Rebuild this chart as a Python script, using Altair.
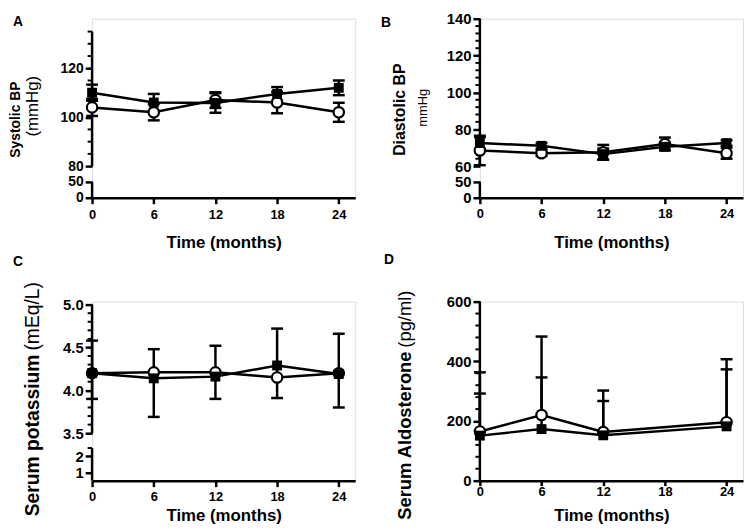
import altair as alt
import pandas as pd

FONT = "Liberation Sans"

# ---------------- data ----------------
months = [0, 6, 12, 18, 24]
months_d = [0, 6, 12, 24]

# A: Systolic BP (mmHg)
sbp_sq = [110, 106, 105.8, 109.5, 112]
sbp_sq_err = [3.3, 3.5, 4.0, 2.8, 3.0]
sbp_ci = [104, 102, 107, 106, 102]
sbp_ci_err = [3.5, 3.3, 3.2, 4.4, 3.9]

# B: Diastolic BP (mmHg)
dbp_sq = [72.5, 71, 66.5, 70.5, 72.5]
dbp_sq_err = [3.2, 1.5, 3.0, 1.5, 1.5]
dbp_ci = [68.5, 67, 67.5, 72, 67]
dbp_ci_err = [8.0, 1.5, 4.0, 3.5, 3.0]

# C: Serum potassium (mEq/L)
k_ci = [4.20, 4.21, 4.21, 4.15, 4.20]
k_ci_upper = [4.58, 4.48, 4.52, 4.72, 4.66]
k_sq = [4.20, 4.14, 4.16, 4.29, 4.19]
k_sq_lower = [3.90, 3.69, 3.90, 3.91, 3.80]

# D: Serum aldosterone (pg/ml)
ald_ci = [165, 220, 163, 196]
ald_ci_upper = [363, 483, 302, 407]
ald_sq = [151, 173, 152, 182]
ald_sq_upper = [292, 346, 267, 373]

# axis ticks
A_major = [0, 50, 80, 100, 120]
A_minor = [85, 90, 95, 105, 110, 115, 125, 130, 135]
A_segments = [(0, 50), (80, 135)]
B_major = [0, 50, 60, 80, 100, 120, 140]
B_minor = [64, 68, 72, 76, 84, 88, 92, 96, 104, 108, 112, 116, 124, 128, 132, 136]
B_segments = [(0, 50), (60, 140)]
C_major = [1, 2, 3.5, 4.0, 4.5, 5.0]
C_minor = [2.5, 3.6, 3.7, 3.8, 3.9, 4.1, 4.2, 4.3, 4.4, 4.6, 4.7, 4.8, 4.9]
C_segments = [(0.5, 2.5), (3.5, 5.0)]
D_major = [0, 200, 400, 600]
D_minor = [40, 80, 120, 160, 240, 280, 320, 360, 440, 480, 520, 560]
D_segments = [(0, 600)]


def long_df(times, ci, ci_lo, ci_hi, sq, sq_lo, sq_hi):
    rows = []
    for i, t in enumerate(times):
        rows.append(dict(t=t, s="ci", m=ci[i], lo=ci_lo[i], hi=ci_hi[i]))
        rows.append(dict(t=t, s="sq", m=sq[i], lo=sq_lo[i], hi=sq_hi[i]))
    return pd.DataFrame(rows)


def caps_df(df):
    rows = []
    for _, r in df.iterrows():
        if r["hi"] != r["m"]:
            rows.append(dict(t=r["t"], v=r["hi"]))
        if r["lo"] != r["m"]:
            rows.append(dict(t=r["t"], v=r["lo"]))
    return pd.DataFrame(rows)


dfA = long_df(months, sbp_ci, [m - e for m, e in zip(sbp_ci, sbp_ci_err)], [m + e for m, e in zip(sbp_ci, sbp_ci_err)],
              sbp_sq, [m - e for m, e in zip(sbp_sq, sbp_sq_err)], [m + e for m, e in zip(sbp_sq, sbp_sq_err)])
dfB = long_df(months, dbp_ci, [m - e for m, e in zip(dbp_ci, dbp_ci_err)], [m + e for m, e in zip(dbp_ci, dbp_ci_err)],
              dbp_sq, [m - e for m, e in zip(dbp_sq, dbp_sq_err)], [m + e for m, e in zip(dbp_sq, dbp_sq_err)])
dfC = long_df(months, k_ci, k_ci, k_ci_upper, k_sq, k_sq_lower, k_sq)
dfD = long_df(months_d, ald_ci, ald_ci, ald_ci_upper, ald_sq, ald_sq, ald_sq_upper)

W = 266
H = 181
xs = alt.Scale(domain=[0, 25.6], nice=False, zero=False)


def panel(df, segs, major, minor, ydom, yrange, letter, ldx, ldy,
          bold, bsize, bx, by, balign, reg, rsize, rx, ry, ralign,
          lab_size, xpad, xtick, xtitle_y, label_expr=None):
    ys = alt.Scale(domain=ydom, range=yrange, nice=False, zero=False)
    xax = alt.Axis(values=months, title="Time (months)", titleFont=FONT, titleFontSize=17,
                   titleFontWeight="bold", titleColor="black", titleY=xtitle_y,
                   titleBaseline="alphabetic", labelFont=FONT, labelFontSize=13,
                   labelFontWeight="bold", labelColor="black", labelPadding=xpad,
                   labelFlush=False, labelOverlap=False, tickSize=xtick, tickWidth=2.5,
                   tickColor="black", domainWidth=2.5, domainColor="black", grid=False)
    X = alt.X("t:Q", scale=xs, axis=xax)
    maj_kw = dict(values=major, orient="left", domain=False, grid=False, tickSize=7,
                  tickWidth=2.5, tickColor="black", labelFont=FONT, labelFontSize=lab_size,
                  labelFontWeight="bold", labelColor="black", labelPadding=2,
                  labelOverlap=False, labelFlush=False, title=bold, titleFont=FONT,
                  titleFontSize=bsize, titleFontWeight="bold", titleColor="black",
                  titleAngle=270, titleX=bx, titleY=by, titleAlign=balign,
                  titleBaseline="middle")
    if label_expr:
        maj_kw["labelExpr"] = label_expr
    maj_axis = alt.Axis(**maj_kw)
    reg_axis = alt.Axis(orient="left", domain=False, grid=False, ticks=False, labels=False,
                        title=reg, titleFont=FONT, titleFontSize=rsize,
                        titleFontWeight="normal", titleColor="black", titleAngle=270,
                        titleX=rx, titleY=ry, titleAlign=ralign, titleBaseline="middle")

    seg_df = pd.DataFrame([dict(t=0, y=a, y2=b) for a, b in segs])
    minor_df = pd.DataFrame(dict(t=[0] * len(minor), v=minor))
    cdf = caps_df(df)

    seg = alt.Chart(seg_df).mark_rule(color="black", strokeWidth=2.5).encode(
        x=X, y=alt.Y("y:Q", scale=ys, axis=reg_axis), y2="y2:Q")
    mnr = alt.Chart(minor_df).mark_tick(orient="horizontal", color="black", size=4.5,
                                        thickness=2, xOffset=-2.25, opacity=1).encode(
        x=X, y=alt.Y("v:Q", scale=ys, axis=None))
    lines = alt.Chart(df).mark_line(color="black", strokeWidth=2.5).encode(
        x=X, y=alt.Y("m:Q", scale=ys, axis=maj_axis), detail="s:N", order="t:Q")
    err = alt.Chart(df).mark_rule(color="black", strokeWidth=2.5).encode(
        x=X, y=alt.Y("lo:Q", scale=ys, axis=None), y2="hi:Q")
    caps = alt.Chart(cdf).mark_tick(orient="horizontal", color="black", size=12,
                                    thickness=2.5, opacity=1).encode(
        x=X, y=alt.Y("v:Q", scale=ys, axis=None))
    circ = alt.Chart(df).transform_filter("datum.s == 'ci'").mark_point(
        shape="circle", filled=True, fill="white", stroke="black", strokeWidth=2.2,
        size=110, opacity=1).encode(x=X, y=alt.Y("m:Q", scale=ys, axis=None))
    sqr = alt.Chart(df).transform_filter("datum.s == 'sq'").mark_point(
        shape="square", filled=True, color="black", size=100, opacity=1).encode(
        x=X, y=alt.Y("m:Q", scale=ys, axis=None))
    return alt.layer(seg, mnr, lines, err, caps, circ, sqr).resolve_axis(
        y="independent").properties(
        width=W, height=H,
        title=alt.TitleParams(letter, anchor="start", frame="group", orient="top",
                              dx=ldx, dy=ldy, offset=0, font=FONT, fontSize=14,
                              fontWeight="bold", color="black", baseline="alphabetic",
                              align="left"))


pA = panel(dfA, A_segments, A_major, A_minor, [0, 50, 80, 135], [181, 165, 149, 13],
           "A", -80, 21.5,
           "Systolic BP", 14, -77, 101.5, "center",
           "(mmHg)", 17, -60, 88, "center",
           14, 5, 6, 50)
pB = panel(dfB, B_segments, B_major, B_minor, [0, 50, 60, 140], [181, 165, 149, 0],
           "B", -100, 29,
           "Diastolic BP", 16, -81, 91.5, "center",
           "mmHg", 13, -58, 89.5, "center",
           15, 4, 6, 50)
pC = panel(dfC, C_segments, C_major, C_minor, [0.5, 2.5, 3.5, 5.0], [181, 148, 133, 3],
           "C", -80, -2,
           "Serum potassium", 19.5, -60, 53, "right",
           "(mEq/L)", 19.5, -60, 49, "left",
           15, 4, 6, 40,
           label_expr="datum.value < 3 ? format(datum.value, 'd') : format(datum.value, '.1f')")
pD = panel(dfD, D_segments, D_major, D_minor, [0, 600], [181, 0],
           "D", -97, -12.8,
           "Serum Aldosterone", 18.5, -76, 50, "right",
           "(pg/ml)", 18.5, -76, 46, "left",
           15, 0, 5, 40)

chart = alt.concat(pA, pB, pC, pD, columns=2, spacing={"row": 105, "column": 126},
                   bounds="flush").properties(padding=0).configure_view(
    stroke=None).configure(background="white")

chart.save("out.html", embed_options={"renderer": "svg", "actions": False})
